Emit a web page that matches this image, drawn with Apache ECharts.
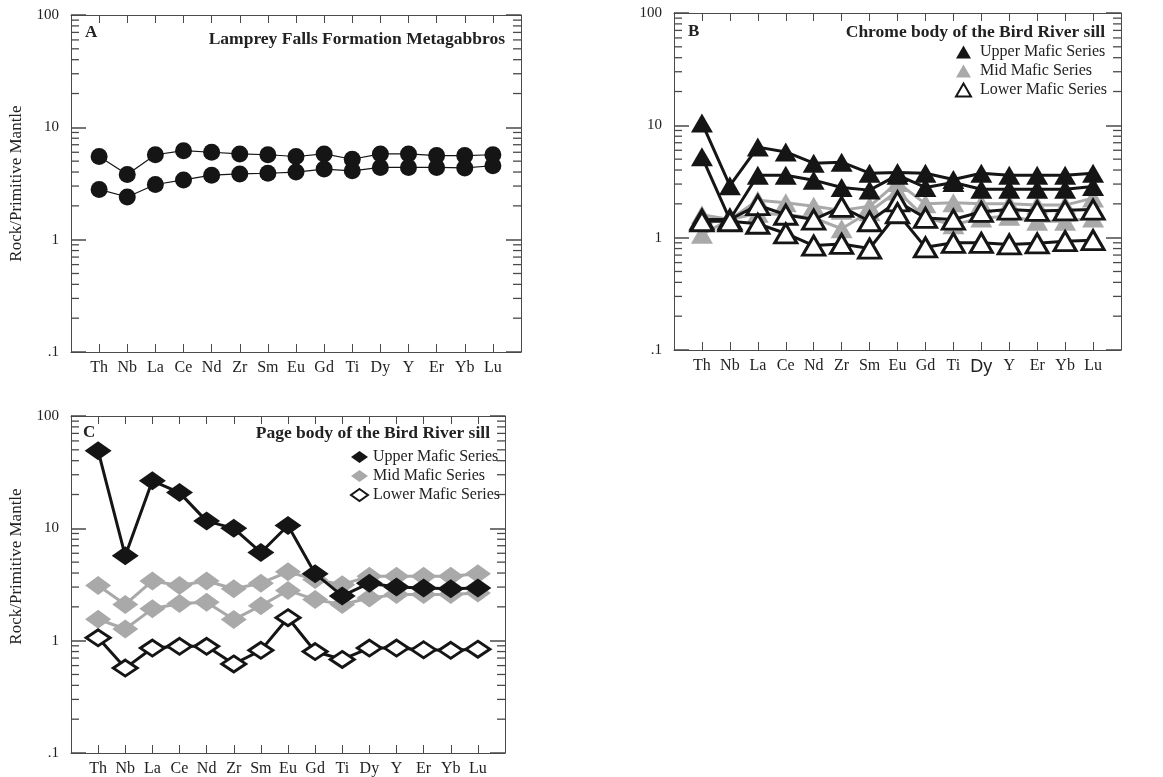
<!DOCTYPE html>
<html>
<head>
<meta charset="utf-8">
<script src="https://cdn.jsdelivr.net/npm/echarts@6/dist/echarts.min.js"></script>
<style>
html,body{margin:0;padding:0;background:#fff;}
#chart{width:1163px;height:777px;}
</style>
</head>
<body>
<div id="chart"></div>
<script>
// ---------- data ----------
const elements = ['Th','Nb','La','Ce','Nd','Zr','Sm','Eu','Gd','Ti','Dy','Y','Er','Yb','Lu'];
const yTickValues = [0.1, 1, 10, 100];
const minorTickValues = [0.2,0.3,0.4,0.5,0.6,0.7,0.8,0.9,2,3,4,5,6,7,8,9,20,30,40,50,60,70,80,90];

// A: Lamprey Falls Formation Metagabbros
const lampreyHigh = [5.5, 3.8, 5.7, 6.2, 6.0, 5.8, 5.7, 5.5, 5.8, 5.2, 5.8, 5.8, 5.6, 5.6, 5.7];
const lampreyLow  = [2.8, 2.4, 3.1, 3.4, 3.75, 3.85, 3.9, 4.0, 4.25, 4.1, 4.4, 4.4, 4.4, 4.35, 4.55];

// B: Chrome body of the Bird River sill
const chromeUpper1 = [10.5, 2.9, 6.4, 5.8, 4.6, 4.7, 3.75, 3.8, 3.75, 3.3, 3.75, 3.6, 3.6, 3.6, 3.75];
const chromeUpper2 = [5.25, 1.45, 3.6, 3.6, 3.25, 2.8, 2.65, 3.6, 2.8, 3.1, 2.7, 2.7, 2.7, 2.7, 2.85];
const chromeMid1   = [1.6, 1.45, 2.15, 2.05, 1.9, 1.75, 1.9, 3.1, 2.0, 2.05, 2.0, 2.0, 1.95, 1.95, 2.25];
const chromeMid2   = [1.07, 1.45, 1.65, 1.6, 1.5, 1.2, 1.7, 2.6, 1.5, 1.3, 1.5, 1.55, 1.4, 1.4, 1.5];
const chromeLower1 = [1.45, 1.45, 1.95, 1.6, 1.45, 1.88, 1.4, 2.1, 1.5, 1.45, 1.7, 1.78, 1.73, 1.75, 1.78];
const chromeLower2 = [1.4, 1.4, 1.33, 1.09, 0.85, 0.88, 0.8, 1.65, 0.82, 0.9, 0.9, 0.87, 0.89, 0.93, 0.95];

// C: Page body of the Bird River sill
const pageUpper = [49, 5.7, 26.5, 20.8, 11.6, 10, 6.1, 10.6, 3.95, 2.5, 3.25, 3.0, 2.95, 2.9, 2.95];
const pageMid1  = [3.1, 2.1, 3.4, 3.1, 3.4, 2.9, 3.25, 4.1, 3.5, 3.15, 3.75, 3.75, 3.75, 3.75, 3.95];
const pageMid2  = [1.55, 1.27, 1.92, 2.14, 2.2, 1.54, 2.05, 2.8, 2.32, 2.1, 2.4, 2.57, 2.57, 2.57, 2.66];
const pageLower = [1.06, 0.57, 0.86, 0.89, 0.89, 0.62, 0.82, 1.6, 0.8, 0.68, 0.86, 0.86, 0.83, 0.82, 0.84];

const seriesNames = ['Upper Mafic Series', 'Mid Mafic Series', 'Lower Mafic Series'];

// ---------- styles ----------
const SERIF = "'Liberation Serif','Times New Roman',serif";
const BLACK = '#151515';
const GREY = '#a9a9a9';
const FRAME = '#4a4a4a';

const grids = [
  {left: 71, top: 15, width: 450, height: 337},
  {left: 674, top: 13, width: 447, height: 337},
  {left: 71, top: 416, width: 434, height: 337}
];

const xAxes = [], yAxes = [];
grids.forEach((g, gi) => {
  const labelFmt = (v) => {
    if (v < 0 || v > 14) return '';
    const name = elements[v];
    if (gi === 1 && name === 'Dy') return '{s|Dy}';
    return name;
  };
  xAxes.push({
    type: 'value', gridIndex: gi, position: 'bottom', min: -1, max: 15, interval: 1,
    splitLine: {show: false},
    axisLine: {show: true, onZero: false, lineStyle: {color: FRAME, width: 1}},
    axisTick: {show: true, inside: true, length: 8, lineStyle: {color: FRAME}},
    axisLabel: {show: true, margin: 8, fontFamily: SERIF, fontSize: 16, color: '#222',
      formatter: labelFmt, showMinLabel: true, showMaxLabel: true,
      rich: {s: {fontFamily: "'Liberation Sans',Arial,sans-serif", fontSize: 18, color: '#222'}}}
  });
  xAxes.push({
    type: 'value', gridIndex: gi, position: 'top', min: -1, max: 15, interval: 1,
    splitLine: {show: false},
    axisLine: {show: true, onZero: false, lineStyle: {color: FRAME, width: 1}},
    axisTick: {show: true, inside: true, length: 8, lineStyle: {color: FRAME}},
    axisLabel: {show: false}
  });
  const yl = {
    type: 'log', logBase: 10, gridIndex: gi, position: 'left', min: 0.1, max: 100,
    splitLine: {show: false},
    axisLine: {show: true, onZero: false, lineStyle: {color: FRAME, width: 1}},
    axisTick: {show: true, inside: true, length: 15, lineStyle: {color: FRAME, width: 1.5}},
    axisLabel: {show: true, margin: 12, fontFamily: SERIF, fontSize: 15, color: '#222',
      formatter: (v) => {
        for (const t of yTickValues) {
          if (Math.abs(v - t) < t * 1e-6) return t === 0.1 ? '.1' : String(t);
        }
        return '';
      }}
  };
  if (gi !== 1) {
    yl.name = 'Rock/Primitive Mantle';
    yl.nameLocation = 'middle';
    yl.nameGap = 46;
    yl.nameTextStyle = {fontFamily: SERIF, fontSize: 17, color: '#222'};
    if (gi === 2) yl.nameTextStyle.padding = [0, 0, 0, 36];
  }
  yAxes.push(yl);
  yAxes.push({
    type: 'log', logBase: 10, gridIndex: gi, position: 'right', min: 0.1, max: 100,
    splitLine: {show: false},
    axisLine: {show: true, onZero: false, lineStyle: {color: FRAME, width: 1}},
    axisTick: {show: true, inside: true, length: 15, lineStyle: {color: FRAME, width: 1.5}},
    axisLabel: {show: false}
  });
});

function pts(arr) { return elements.map((_, i) => [i, arr[i]]); }

function lineSeries(gi, name, arr, opts) {
  return Object.assign({
    type: 'line', name: name, xAxisIndex: gi * 2, yAxisIndex: gi * 2,
    data: pts(arr), showSymbol: true, silent: true, animation: false
  }, opts);
}

const series = [];

// minor ticks (log-distributed) on left and right frames
grids.forEach((g, gi) => {
  series.push({
    type: 'custom', xAxisIndex: gi * 2, yAxisIndex: gi * 2, silent: true, clip: false,
    data: minorTickValues.map(v => [-1, v]),
    renderItem: (params, api) => {
      const v = api.value(1);
      const pl = api.coord([-1, v]);
      const pr = api.coord([15, v]);
      const st = {stroke: FRAME, lineWidth: 1.3};
      return {type: 'group', children: [
        {type: 'line', shape: {x1: pl[0], y1: pl[1], x2: pl[0] + 8, y2: pl[1]}, style: st},
        {type: 'line', shape: {x1: pr[0] - 8, y1: pr[1], x2: pr[0], y2: pr[1]}, style: st}
      ]};
    }
  });
});

// Panel A
const circleOpts = {symbol: 'circle', symbolSize: 17, itemStyle: {color: BLACK},
  lineStyle: {color: BLACK, width: 1.2}, z: 3};
series.push(lineSeries(0, 'Lamprey High', lampreyHigh, circleOpts));
series.push(lineSeries(0, 'Lamprey Low', lampreyLow, circleOpts));

// Panel B
const triSize = [22, 19];
const triUpper = {symbol: 'triangle', symbolSize: triSize, itemStyle: {color: BLACK},
  lineStyle: {color: BLACK, width: 3}, z: 4};
const triMid = {symbol: 'triangle', symbolSize: triSize, itemStyle: {color: GREY},
  lineStyle: {color: GREY, width: 3}, z: 3};
const triLower = {symbol: 'triangle', symbolSize: triSize,
  itemStyle: {color: '#fff', borderColor: BLACK, borderWidth: 3},
  lineStyle: {color: BLACK, width: 3}, z: 5};
series.push(lineSeries(1, seriesNames[1], chromeMid1, triMid));
series.push(lineSeries(1, seriesNames[1], chromeMid2, triMid));
series.push(lineSeries(1, seriesNames[0], chromeUpper1, triUpper));
series.push(lineSeries(1, seriesNames[0], chromeUpper2, triUpper));
series.push(lineSeries(1, seriesNames[2], chromeLower1, triLower));
series.push(lineSeries(1, seriesNames[2], chromeLower2, triLower));

// Panel C
const diaUpper = {symbol: 'diamond', symbolSize: [27, 19], itemStyle: {color: BLACK},
  lineStyle: {color: BLACK, width: 3}, z: 4};
const diaMid = {symbol: 'diamond', symbolSize: [26, 19], itemStyle: {color: GREY},
  lineStyle: {color: GREY, width: 3}, z: 3};
const diaLower = {symbol: 'diamond', symbolSize: [24, 16],
  itemStyle: {color: '#fff', borderColor: BLACK, borderWidth: 3},
  lineStyle: {color: BLACK, width: 3}, z: 5};
series.push(lineSeries(2, seriesNames[1], pageMid1, diaMid));
series.push(lineSeries(2, seriesNames[1], pageMid2, diaMid));
series.push(lineSeries(2, seriesNames[0], pageUpper, diaUpper));
series.push(lineSeries(2, seriesNames[2], pageLower, diaLower));

function legendData(icon) {
  return [
    {name: seriesNames[0], icon: icon, itemStyle: {color: BLACK, borderWidth: 0}},
    {name: seriesNames[1], icon: icon, itemStyle: {color: GREY, borderWidth: 0}},
    {name: seriesNames[2], icon: icon, itemStyle: {color: '#fff', borderColor: BLACK, borderWidth: 2}}
  ];
}
const legendText = {fontFamily: SERIF, fontSize: 16, color: '#222', lineHeight: 16};

const titleStyle = {fontFamily: SERIF, fontSize: 17.5, fontWeight: 'bold', color: '#222'};
const letterStyle = {fontFamily: SERIF, fontSize: 17, fontWeight: 'bold', color: '#222'};

const option = {
  animation: false,
  backgroundColor: '#fff',
  title: [
    {text: 'Lamprey Falls Formation Metagabbros', right: 658, top: 30, padding: 0, textStyle: titleStyle},
    {text: 'A', left: 85, top: 24, padding: 0, textStyle: letterStyle},
    {text: 'Chrome body of the Bird River sill', right: 58, top: 23, padding: 0, textStyle: titleStyle},
    {text: 'B', left: 688, top: 23, padding: 0, textStyle: letterStyle},
    {text: 'Page body of the Bird River sill', right: 673, top: 424, padding: 0, textStyle: titleStyle},
    {text: 'C', left: 83, top: 424, padding: 0, textStyle: letterStyle}
  ],
  legend: [
    {orient: 'vertical', left: 955, top: 44, padding: 0, itemGap: 3, itemWidth: 15, itemHeight: 13,
     data: legendData('triangle'), textStyle: Object.assign({padding: [0, 0, 0, 4]}, legendText),
     selectedMode: false},
    {orient: 'vertical', left: 350, top: 449, padding: 0, itemGap: 3, itemWidth: 17, itemHeight: 12,
     data: legendData('diamond'), textStyle: legendText, selectedMode: false}
  ],
  grid: grids.map(g => Object.assign({containLabel: false}, g)),
  xAxis: xAxes,
  yAxis: yAxes,
  series: series
};

const chart = echarts.init(document.getElementById('chart'), null, {renderer: 'canvas'});
chart.setOption(option);
</script>
</body>
</html>
